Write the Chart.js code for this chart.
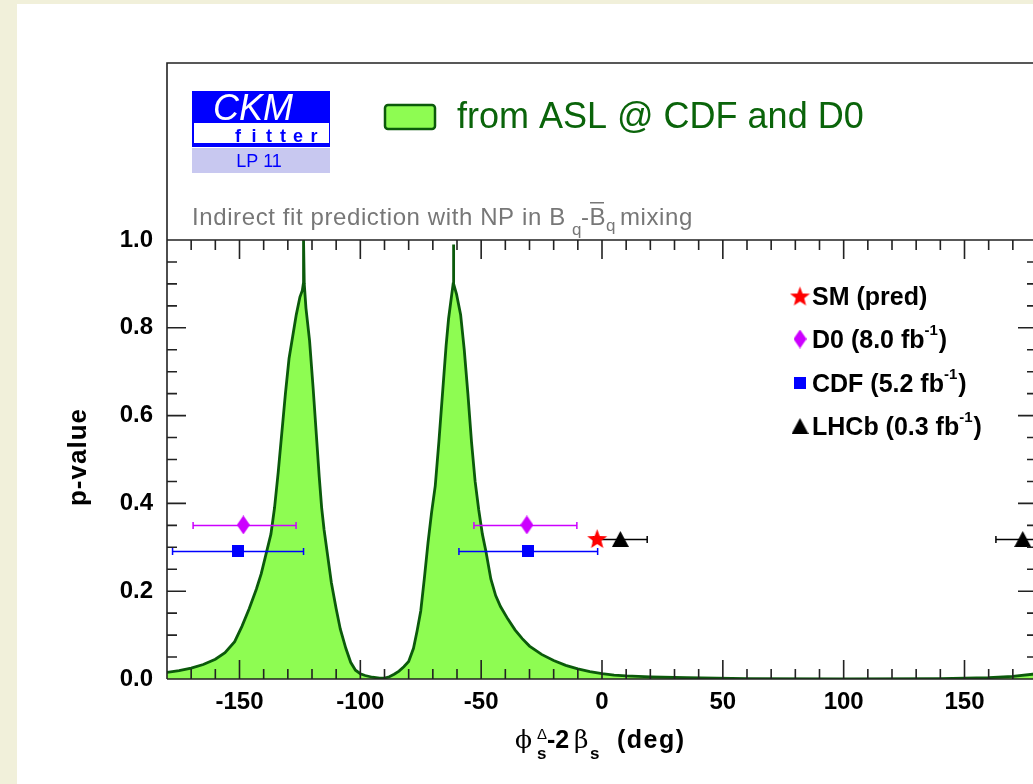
<!DOCTYPE html>
<html>
<head>
<meta charset="utf-8">
<script src="https://cdn.jsdelivr.net/npm/chart.js@4.4.1/dist/chart.umd.min.js"></script>
<style>
  html, body { margin: 0; padding: 0; overflow: hidden; background: #f1f0da; }
  canvas { display: block; }
</style>
</head>
<body>
<canvas id="pChart" width="1045" height="784"></canvas>
<script>
// p-value of phi_s^Delta - 2 beta_s
const curveX = [-180, -175, -170, -165, -160, -156, -152, -149, -146, -143, -141, -139, -137, -135.5, -134, -132.5, -131, -129.5, -128, -126.5, -125, -124, -123.6, -123.5, -123.2, -122.5, -121, -119.5, -118, -117, -116, -115, -113.5, -112, -110, -108.3, -106, -104, -102, -100, -98, -95, -92,
  -90, -88, -86, -84, -82, -80, -78, -76.5, -75, -73.5, -72, -70.5, -69, -67.5, -66, -64.5, -63.5, -62.2, -61.6, -61.5, -61.3, -60.2, -58.5, -57, -55.5, -54, -52.5, -51, -49.5, -48, -46, -44, -42, -39, -36, -33, -30, -25, -20, -15, -10, -5, 0, 5, 10, 20, 35, 60, 100, 140, 150, 160, 170, 180];
const curveP = [0.015, 0.019, 0.025, 0.033, 0.045, 0.06, 0.085, 0.12, 0.16, 0.205, 0.24, 0.285, 0.33, 0.39, 0.47, 0.56, 0.65, 0.73, 0.78, 0.83, 0.87, 0.885, 0.9, 1.0, 0.9, 0.845, 0.77, 0.66, 0.54, 0.46, 0.39, 0.34, 0.28, 0.22, 0.16, 0.114, 0.07, 0.038, 0.02, 0.012, 0.008, 0.004, 0.002,
  0.002, 0.005, 0.011, 0.018, 0.028, 0.04, 0.07, 0.11, 0.155, 0.23, 0.31, 0.38, 0.44, 0.54, 0.65, 0.76, 0.82, 0.875, 0.9, 0.99, 0.9, 0.877, 0.83, 0.75, 0.65, 0.54, 0.45, 0.385, 0.33, 0.29, 0.228, 0.19, 0.165, 0.137, 0.112, 0.092, 0.075, 0.056, 0.042, 0.031, 0.023, 0.017, 0.012, 0.009, 0.007, 0.005, 0.003, 0.001, 0.0005, 0.001, 0.002, 0.003, 0.006, 0.012];

// measurements (deg), two-fold ambiguity
const smX = [-2];
const smY = [0.32];
const d0X = [-148.4, -31.1];
const d0Lo = [-169.2, -53.0];
const d0Hi = [-126.6, -10.4];
const d0Y = [0.351, 0.351];
const cdfX = [-150.8, -30.6];
const cdfLo = [-177.7, -59.2];
const cdfHi = [-123.5, -1.8];
const cdfY = [0.292, 0.292];
const lhcbX = [7.6, 174.1];
const lhcbLo = [-3.5, 163.0];
const lhcbHi = [18.7, 185.0];
const lhcbY = [0.319, 0.319];

const xTickVals = [-150, -100, -50, 0, 50, 100, 150];
const xTickLabels = ["-150", "-100", "-50", "0", "50", "100", "150"];
const yTickVals = [0, 0.2, 0.4, 0.6, 0.8, 1.0];
const yTickLabels = ["0.0", "0.2", "0.4", "0.6", "0.8", "1.0"];

const FONT = '"Liberation Sans", Arial, Helvetica, sans-serif';
const SERIF = '"DejaVu Serif", "Liberation Serif", serif';
const fillGreen = "#8efc52";
const lineGreen = "#0b5a0b";

function pts(xs, ys) {
  return xs.map((x, i) => ({ x: x, y: ys[i] }));
}

// marker images
function marker(kind, color, w, h) {
  const c = document.createElement("canvas");
  c.width = w;
  c.height = h;
  const g = c.getContext("2d");
  g.fillStyle = color;
  g.beginPath();
  if (kind === "star") {
    const cx = w / 2, cy = h / 2 + 1, R = w / 2, r = R * 0.42;
    for (let i = 0; i < 10; i++) {
      const a = -Math.PI / 2 + i * Math.PI / 5;
      const rr = i % 2 ? r : R;
      g.lineTo(cx + rr * Math.cos(a), cy + rr * Math.sin(a));
    }
  } else if (kind === "diamond") {
    g.moveTo(w / 2, 0);
    g.lineTo(w, h / 2);
    g.lineTo(w / 2, h);
    g.lineTo(0, h / 2);
  } else if (kind === "triangle") {
    g.moveTo(w / 2, 0);
    g.lineTo(w, h);
    g.lineTo(0, h);
  } else {
    g.rect(0, 0, w, h);
  }
  g.closePath();
  g.fill();
  return c;
}

const starImg = marker("star", "#ff0000", 21, 21);
const diamondImg = marker("diamond", "#cc00ff", 13, 19);
const squareImg = marker("square", "#0000ff", 12, 12);
const triImg = marker("triangle", "#000000", 17, 16);

const errorBars = {
  id: "errorBars",
  afterDatasetDraw(chart, args) {
    if (args.index !== 0) return;
    const ctx = chart.ctx, xs = chart.scales.x, ys = chart.scales.y, a = chart.chartArea;
    const sets = [
      [d0Lo, d0Hi, d0Y, "#cc00ff"],
      [cdfLo, cdfHi, cdfY, "#0000ff"],
      [lhcbLo, lhcbHi, lhcbY, "#000000"],
    ];
    ctx.save();
    ctx.beginPath();
    ctx.rect(a.left, a.top, a.right - a.left, a.bottom - a.top);
    ctx.clip();
    ctx.lineWidth = 1.5;
    sets.forEach(([lo, hi, yv, col]) => {
      ctx.strokeStyle = col;
      lo.forEach((l, i) => {
        const x1 = xs.getPixelForValue(l), x2 = xs.getPixelForValue(hi[i]);
        const y = Math.round(ys.getPixelForValue(yv[i])) + 0.5;
        ctx.beginPath();
        ctx.moveTo(x1, y);
        ctx.lineTo(x2, y);
        ctx.moveTo(x1, y - 3.5);
        ctx.lineTo(x1, y + 3.5);
        ctx.moveTo(x2, y - 3.5);
        ctx.lineTo(x2, y + 3.5);
        ctx.stroke();
      });
    });
    ctx.restore();
  },
};

const frame = {
  id: "frame",
  beforeDraw(chart) {
    const ctx = chart.ctx;
    ctx.save();
    ctx.fillStyle = "#f1f0da";
    ctx.fillRect(0, 0, chart.width, chart.height);
    ctx.fillStyle = "#ffffff";
    ctx.fillRect(17, 4, chart.width - 17, chart.height - 4);
    ctx.restore();
  },
  afterDraw(chart) {
    const ctx = chart.ctx, xs = chart.scales.x, ys = chart.scales.y, a = chart.chartArea;
    ctx.save();
    ctx.strokeStyle = "#222";
    ctx.lineWidth = 1.6;
    // outer box + axis lines
    ctx.beginPath();
    ctx.moveTo(a.left, a.bottom);
    ctx.lineTo(a.left, 63);
    ctx.lineTo(chart.width, 63);
    ctx.moveTo(a.left, a.top);
    ctx.lineTo(a.right, a.top);
    ctx.lineTo(a.right, a.bottom);
    ctx.lineTo(a.left, a.bottom);
    ctx.stroke();

    // inward ticks
    ctx.beginPath();
    for (let v = -170; v <= 170; v += 10) {
      const px = xs.getPixelForValue(v);
      const len = v % 50 === 0 ? 19 : 10;
      ctx.moveTo(px, a.bottom);
      ctx.lineTo(px, a.bottom - len);
      ctx.moveTo(px, a.top);
      ctx.lineTo(px, a.top + len);
    }
    for (let k = 1; k < 20; k++) {
      const py = ys.getPixelForValue(k * 0.05);
      const len = k % 4 === 0 ? 19 : 10;
      ctx.moveTo(a.left, py);
      ctx.lineTo(a.left + len, py);
      ctx.moveTo(a.right, py);
      ctx.lineTo(a.right - len, py);
    }
    ctx.stroke();

    // tick labels
    ctx.fillStyle = "#000";
    ctx.font = "bold 24px " + FONT;
    ctx.textAlign = "center";
    ctx.textBaseline = "middle";
    xTickVals.forEach((v, i) => ctx.fillText(xTickLabels[i], xs.getPixelForValue(v), 702));
    ctx.textAlign = "right";
    yTickVals.forEach((v, i) => ctx.fillText(yTickLabels[i], 153, ys.getPixelForValue(v)));

    // y title
    ctx.save();
    ctx.translate(86, 457);
    ctx.rotate(-Math.PI / 2);
    ctx.textAlign = "center";
    ctx.textBaseline = "alphabetic";
    ctx.font = "bold 26px " + FONT;
    ctx.letterSpacing = "1px";
    ctx.fillText("p-value", 0, 0);
    ctx.restore();

    // x title: phi_s^Delta - 2 beta_s  (deg)
    ctx.textAlign = "left";
    ctx.textBaseline = "alphabetic";
    const base = 748;
    ctx.font = "25px " + SERIF;
    ctx.fillText("\u03d5", 515, base);
    ctx.font = "15px " + FONT;
    ctx.fillText("\u0394", 537, base - 9);
    ctx.font = "bold 17px " + FONT;
    ctx.fillText("s", 537, base + 11);
    ctx.font = "bold 25px " + FONT;
    ctx.fillText("-2", 547, base);
    ctx.font = "25px " + SERIF;
    ctx.fillText("\u03b2", 574, base);
    ctx.font = "bold 17px " + FONT;
    ctx.fillText("s", 590, base + 11);
    ctx.font = "bold 25px " + FONT;
    ctx.letterSpacing = "1.5px";
    ctx.fillText("(deg)", 617, base);
    ctx.letterSpacing = "0px";

    // CKMfitter logo
    ctx.fillStyle = "#0000ff";
    ctx.fillRect(192, 91, 138, 56);
    ctx.fillStyle = "#ffffff";
    ctx.fillRect(194, 123, 135, 20);
    ctx.fillStyle = "#c8c8f0";
    ctx.fillRect(192, 148, 138, 25);
    ctx.fillStyle = "#ffffff";
    ctx.font = "italic 36px " + FONT;
    ctx.textAlign = "center";
    ctx.fillText("CKM", 253, 120);
    ctx.fillStyle = "#0000ff";
    ctx.font = "bold 18px " + FONT;
    const fit = ["f", "i", "t", "t", "e", "r"];
    const fitX = [238, 254, 269, 283, 298, 314];
    fit.forEach((ch, i) => ctx.fillText(ch, fitX[i], 142));
    ctx.font = "18px " + FONT;
    ctx.fillText("LP 11", 259, 167);

    // top legend for the curve
    ctx.fillStyle = fillGreen;
    ctx.strokeStyle = lineGreen;
    ctx.lineWidth = 2.5;
    ctx.beginPath();
    ctx.roundRect(385, 105, 50, 24, 3);
    ctx.fill();
    ctx.stroke();
    ctx.fillStyle = "#0a640a";
    ctx.textAlign = "left";
    ctx.font = "36px " + FONT;
    ctx.fillText("from ASL @ CDF and D0", 457, 128);

    // gray subtitle
    ctx.fillStyle = "#777777";
    ctx.font = "24px " + FONT;
    ctx.letterSpacing = "0.6px";
    ctx.fillText("Indirect fit prediction with NP in B", 192, 225);
    ctx.font = "17px " + FONT;
    ctx.fillText("q", 572, 235);
    ctx.font = "24px " + FONT;
    ctx.fillText("-B", 581, 225);
    ctx.fillRect(590, 202, 14, 1.5);
    ctx.font = "17px " + FONT;
    ctx.fillText("q", 606, 231);
    ctx.font = "24px " + FONT;
    ctx.fillText("mixing", 620, 225);
    ctx.letterSpacing = "0px";

    // marker legend
    const legImgs = [starImg, diamondImg, squareImg, triImg];
    const legMain = ["SM (pred)", "D0 (8.0 fb", "CDF (5.2 fb", "LHCb (0.3 fb"];
    const legY = [305, 348, 392, 435];
    ctx.fillStyle = "#000";
    legImgs.forEach((img, i) => {
      ctx.drawImage(img, 800 - img.width / 2, legY[i] - 9 - img.height / 2);
      ctx.font = "bold 25px " + FONT;
      ctx.fillText(legMain[i], 812, legY[i]);
      if (i > 0) {
        let w = ctx.measureText(legMain[i]).width;
        ctx.font = "bold 15px " + FONT;
        ctx.fillText("-1", 812 + w, legY[i] - 13);
        const w2 = ctx.measureText("-1").width;
        ctx.font = "bold 25px " + FONT;
        ctx.fillText(")", 812 + w + w2 + 1, legY[i]);
      }
    });
    ctx.restore();
  },
};

const ctx = document.getElementById("pChart").getContext("2d");
const pChart = new Chart(ctx, {
  type: "scatter",
  data: {
    datasets: [
      {
        type: "line",
        label: "from ASL @ CDF and D0",
        data: pts(curveX, curveP),
        borderColor: lineGreen,
        backgroundColor: fillGreen,
        borderWidth: 2.8,
        fill: "origin",
        pointRadius: 0,
        tension: 0,
        order: 5,
      },
      { label: "SM (pred)", data: pts(smX, smY), pointStyle: starImg, order: 0 },
      { label: "D0", data: pts(d0X, d0Y), pointStyle: diamondImg, order: 1 },
      { label: "CDF", data: pts(cdfX, cdfY), pointStyle: squareImg, order: 1 },
      { label: "LHCb", data: pts(lhcbX, lhcbY), pointStyle: triImg, order: 1 },
    ],
  },
  options: {
    responsive: false,
    animation: false,
    devicePixelRatio: 1,
    layout: { padding: { left: 167, right: 8, top: 240, bottom: 105 } },
    scales: {
      x: { type: "linear", min: -180, max: 180, display: false },
      y: { min: 0, max: 1, display: false },
    },
    plugins: {
      legend: { display: false },
      tooltip: { enabled: false },
    },
  },
  plugins: [frame, errorBars],
});
</script>
</body>
</html>
